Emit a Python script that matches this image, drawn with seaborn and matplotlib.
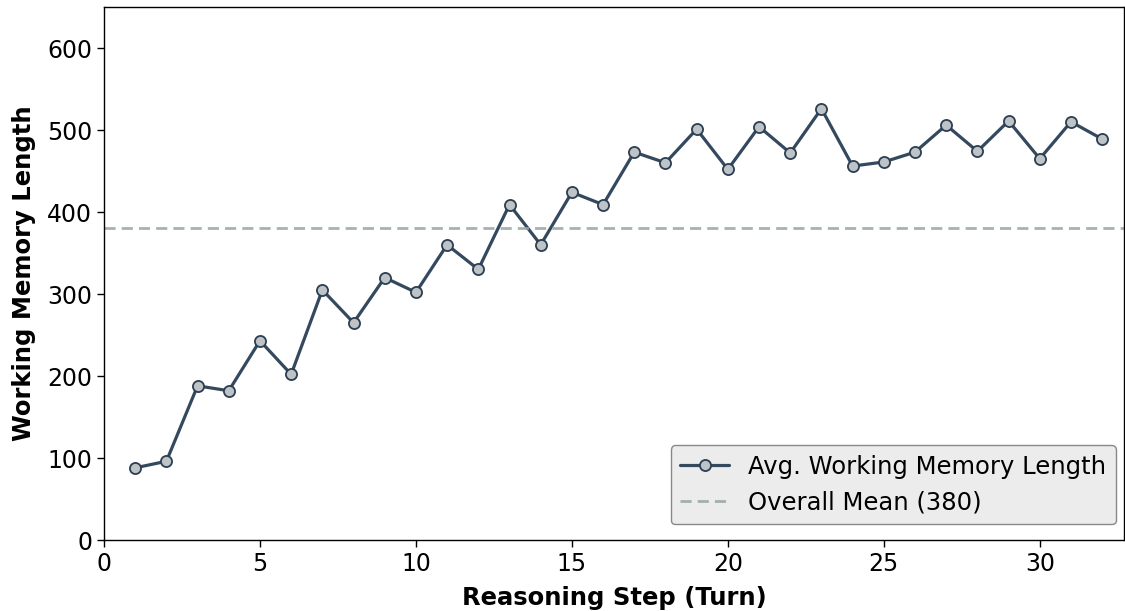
import numpy as np
import pandas as pd
import seaborn as sns
from matplotlib import pyplot as plt

steps = list(range(1, 33))
wm_length = [88, 96, 188, 182, 243, 202, 305, 265, 320, 302, 360, 330, 409, 360, 424, 409,
             473, 460, 501, 452, 504, 472, 526, 456, 461, 473, 506, 474, 511, 465, 510, 489]
overall_mean = 380

df = pd.DataFrame({"step": steps, "length": wm_length})

sns.set_style("ticks")
plt.rcParams['font.family'] = ['DejaVu Sans']
plt.rcParams['text.color'] = 'black'
plt.rcParams['axes.labelcolor'] = 'black'
plt.rcParams['xtick.color'] = 'black'
plt.rcParams['ytick.color'] = 'black'

fig = plt.figure(figsize=(11.25, 6.11), dpi=100)
ax = fig.add_axes([104 / 1125, 1 - 540 / 611, (1124 - 104) / 1125, (540 - 7) / 611])

sns.lineplot(data=df, x="step", y="length", ax=ax, color="#34495e", linewidth=2.3,
             marker="o", markersize=8, markerfacecolor="#bdc3c7", markeredgecolor="#2c3e50",
             markeredgewidth=1.3, label="Avg. Working Memory Length")
ax.axhline(overall_mean, color="#95a5a6", alpha=0.85, linestyle="--", linewidth=2, dashes=(4, 2.2),
           label=f"Overall Mean ({overall_mean})")

ax.set_xlim(0, 32.7)
ax.set_ylim(0, 650)
ax.set_xticks([0, 5, 10, 15, 20, 25, 30])
ax.set_yticks([0, 100, 200, 300, 400, 500, 600])
ax.tick_params(labelsize=17, width=1, length=5)
ax.set_xlabel("Reasoning Step (Turn)", fontsize=17.5, fontweight="bold", labelpad=7)
ax.set_ylabel("Working Memory Length", fontsize=17.5, fontweight="bold", labelpad=8)
for s in ax.spines.values():
    s.set_linewidth(1)
    s.set_color("black")

leg = ax.legend(loc="lower right", fontsize=17.5, frameon=True, fancybox=True,
                facecolor="#ececec", edgecolor="#888888", framealpha=1,
                bbox_to_anchor=(0.997, 0.02), borderaxespad=0.2)

fig.savefig("out.png", dpi=100)
